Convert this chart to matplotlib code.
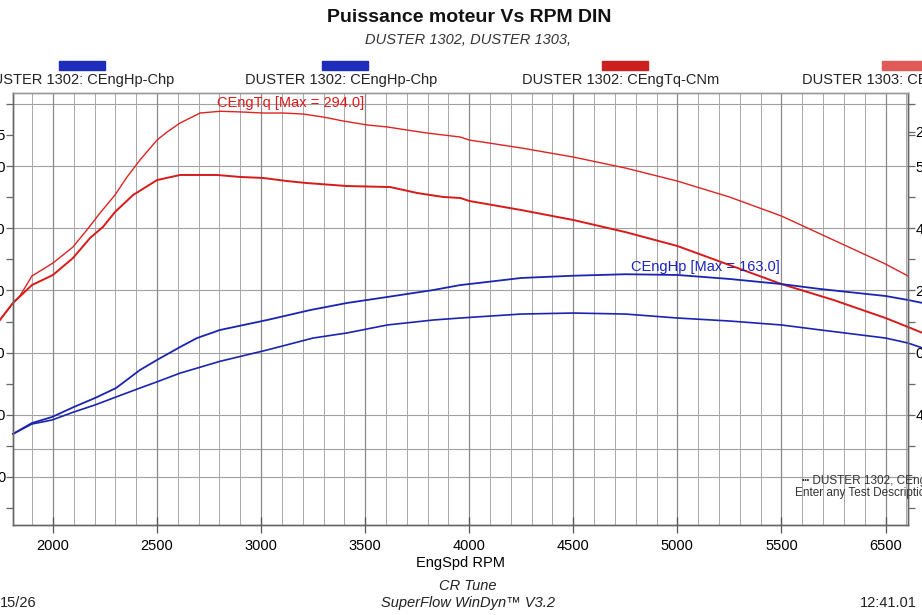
import matplotlib.pyplot as plt
from matplotlib.ticker import FixedLocator, MultipleLocator

plt.rcParams['font.family'] = ['Liberation Sans', 'DejaVu Sans']

# DUSTER 1303 torque (upper red curve)
rpm_tq_1303 = [1745, 1808, 1841, 1899, 2000, 2096, 2163, 2226, 2298, 2356, 2418,
               2500, 2548, 2611, 2707, 2803, 2899, 3010, 3106, 3202, 3298, 3394,
               3510, 3606, 3702, 3798, 3957, 4000, 4250, 4500, 4750, 5000, 5250,
               5500, 5750, 6000, 6108]
tq_1303 = [126.2, 139.9, 145.5, 161.6, 172.0, 184.9, 198.6, 212.2, 226.7, 241.2, 254.8,
           270.9, 277.3, 284.6, 292.6, 294.0, 293.5, 292.6, 292.6, 291.8, 289.4, 286.2,
           283.0, 281.4, 278.9, 276.5, 273.3, 270.9, 264.5, 257.2, 248.4, 237.9, 225.1,
           209.8, 190.5, 171.2, 161.6]

# DUSTER 1302 torque (lower red curve)
rpm_tq_1302 = [1745, 1808, 1899, 2000, 2096, 2178, 2240, 2298, 2385, 2500, 2611,
               2788, 2899, 3010, 3125, 3221, 3413, 3620, 3750, 3875, 3957, 4000,
               4250, 4500, 4750, 5000, 5250, 5500, 5750, 6000, 6108, 6178]
tq_1302 = [126.2, 139.9, 154.3, 162.4, 176.0, 192.1, 201.0, 213.0, 226.7, 238.7, 242.8,
           242.8, 241.2, 240.4, 237.9, 236.3, 233.9, 233.1, 228.3, 225.1, 224.3, 221.9,
           214.6, 206.6, 196.9, 185.7, 170.4, 155.1, 142.3, 127.8, 120.6, 115.8]

# power, upper blue curve
rpm_hp_a = [1808, 1899, 1995, 2101, 2202, 2303, 2418, 2500, 2611, 2692, 2803, 3029,
            3236, 3413, 3606, 3827, 3957, 4000, 4250, 4500, 4750, 5000, 5250, 5500,
            5688, 6000, 6108, 6178]
hp_a = [34.6, 43.4, 48.2, 56.3, 63.5, 71.5, 86.0, 94.1, 104.5, 111.7, 118.2, 126.2,
        134.2, 139.9, 144.7, 150.3, 154.3, 155.1, 160.0, 161.8, 163.0, 162.4, 159.2, 155.1,
        151.1, 145.5, 142.3, 139.9]

# power, lower blue curve
rpm_hp_b = [1808, 1899, 1995, 2101, 2202, 2303, 2418, 2500, 2611, 2803, 3029, 3250,
            3413, 3606, 3827, 3957, 4250, 4500, 4750, 5000, 5250, 5500, 5688, 6000,
            6108, 6178]
hp_b = [34.6, 42.6, 45.8, 52.3, 57.9, 64.3, 71.5, 76.5, 83.5, 93.0, 102.1, 111.7,
        115.8, 122.2, 126.2, 127.8, 131.0, 131.8, 131.0, 127.8, 125.4, 122.2, 118.2, 111.7,
        107.7, 103.7]

x_ticks = [2000, 2500, 3000, 3500, 4000, 4500, 5000, 5500, 6000]
x_labels = ['2000', '2500', '3000', '3500', '4000', '4500', '5000', '5500', '6500']

left_ticks = [275, 250, 200, 150, 100, 50, 0]
right_ticks = [277.5, 250, 200, 150, 100, 50]
right_labels = ['2', '5', '4', '2', '0', '4']
h_grid = [300, 250, 200, 150, 100, 50, 22.5, 0]

legend_labels = ['DUSTER 1302: CEngHp-Chp', 'DUSTER 1302: CEngHp-Chp',
                 'DUSTER 1302: CEngTq-CNm', 'DUSTER 1303: CEngTq-CNm']
legend_colors = ['#1f2dbd', '#1f2dbd', '#cc1f1f', '#e05a5a']

W, H = 922, 615
fig = plt.figure(figsize=(W / 100, H / 100), dpi=100)
fig.patch.set_facecolor('white')
ax = fig.add_axes([13 / W, (H - 525) / H, 895 / W, 432 / H])

ax.set_xlim(1808, 6108)
ax.set_ylim(-38.6, 308.7)

# grid
ax.xaxis.set_major_locator(FixedLocator(x_ticks))
ax.xaxis.set_minor_locator(MultipleLocator(100))
ax.grid(axis='x', which='minor', color='#a8a8a8', lw=0.7)
ax.grid(axis='x', which='major', color='#8a8a8a', lw=0.9)
for v in h_grid:
    ax.axhline(v, color='#a0a0a0', lw=0.8, zorder=0.5)
ax.set_axisbelow(True)

# curves
ax.plot(rpm_tq_1303, tq_1303, color='#e02222', lw=1.0, clip_on=False)
ax.plot(rpm_tq_1302, tq_1302, color='#d81a1a', lw=1.4, clip_on=False)
ax.plot(rpm_hp_a, hp_a, color='#1a24b0', lw=1.3, clip_on=False)
ax.plot(rpm_hp_b, hp_b, color='#1a24b0', lw=1.2, clip_on=False)

ax.text(2790, 300.5, 'CEngTq [Max = 294.0]', color='#e01a1a', fontsize=10.5,
        ha='left', va='center')
ax.text(4779, 168.5, 'CEngHp [Max = 163.0]', color='#1a24c0', fontsize=10.5,
        ha='left', va='center')

# x axis
ax.set_xticklabels(x_labels)
ax.tick_params(axis='x', which='major', direction='inout', length=12, width=0.9,
               color='#555555', labelsize=10.5, pad=4)
ax.tick_params(axis='x', which='minor', length=0)
ax.set_xlabel('EngSpd RPM', fontsize=10.5, labelpad=2)

# left axis
ax.yaxis.set_major_locator(FixedLocator(left_ticks))
ax.set_yticklabels([str(v) for v in left_ticks])
ax.yaxis.set_minor_locator(MultipleLocator(25))
ax.tick_params(axis='y', which='both', direction='out', length=5, width=0.9,
               color='#666666', labelsize=10.5, pad=0.5)

# right axis
ax2 = ax.twinx()
ax2.set_ylim(ax.get_ylim())
ax2.yaxis.set_major_locator(FixedLocator(right_ticks))
ax2.set_yticklabels(right_labels)
ax2.yaxis.set_minor_locator(MultipleLocator(25))
ax2.tick_params(axis='y', which='both', direction='out', length=5, width=0.9,
                color='#666666', labelsize=10.5, pad=0.5)

for a in (ax, ax2):
    for s in a.spines.values():
        s.set_color('#666666')
        s.set_linewidth(1.0)
    a.spines['top'].set_color('#999999')

# titles
fig.text(469 / W, 1 - 17 / H, 'Puissance moteur Vs RPM DIN', ha='center', va='center',
         fontsize=14, fontweight='bold', color='#111111')
fig.text(468 / W, 1 - 40 / H, 'DUSTER 1302, DUSTER 1303,', ha='center', va='center',
         fontsize=10.5, style='italic', color='#333333')

# legend header
leg_x = [82, 345, 625, 905]
for cx, lab, col in zip(leg_x, legend_labels, legend_colors):
    fig.patches.append(plt.Rectangle(((cx - 23) / W, 1 - 70 / H), 46 / W, 9 / H,
                                     transform=fig.transFigure, color=col))
    fig.text(cx / W - 4 / W, 1 - 80 / H, lab, ha='center', va='center',
             fontsize=10.5, color='#222222')

# note bottom right
fig.text(802 / W, 1 - 481 / H, '\u2505 DUSTER 1302, CEngTq-CNm', ha='left', va='center',
         fontsize=8.5, color='#333333')
fig.text(795 / W, 1 - 493 / H, 'Enter any Test Description', ha='left', va='center',
         fontsize=8.5, color='#333333')

# footer
fig.text(468 / W, 1 - 586 / H, 'CR Tune', ha='center', va='center',
         fontsize=10.5, style='italic', color='#222222')
fig.text(468 / W, 1 - 603 / H, 'SuperFlow WinDyn\u2122 V3.2', ha='center', va='center',
         fontsize=10.5, style='italic', color='#222222')
fig.text(0 / W, 1 - 603 / H, '15/26', ha='left', va='center', fontsize=10.5,
         color='#222222')
fig.text(917 / W, 1 - 603 / H, '12:41.01', ha='right', va='center', fontsize=10.5,
         color='#222222')

fig.savefig('out.png', dpi=100)
